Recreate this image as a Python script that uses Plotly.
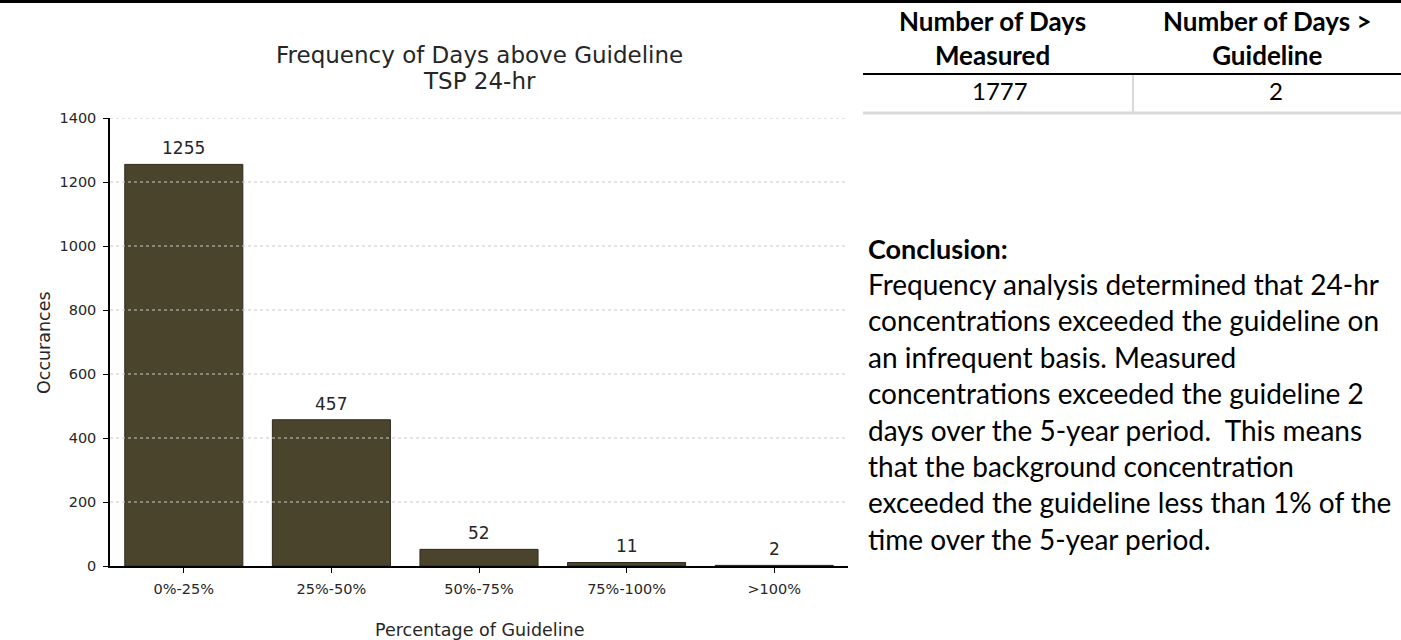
import plotly.graph_objects as go

# ---- data ----
categories = ["0%-25%", "25%-50%", "50%-75%", "75%-100%", ">100%"]
occurrences = [1255, 457, 52, 11, 2]
y_ticks = [0, 200, 400, 600, 800, 1000, 1200, 1400]

table_headers = ["Number of Days<br>Measured", "Number of Days ><br>Guideline"]
table_values = ["1777", "2"]

conclusion_title = "Conclusion:"
conclusion_lines = [
    "Frequency analysis determined that 24-hr",
    "concentrations exceeded the guideline on",
    "an infrequent basis. Measured",
    "concentrations exceeded the guideline 2",
    "days over the 5-year period.  This means",
    "that the background concentration",
    "exceeded the guideline less than 1% of the",
    "time over the 5-year period.",
]

chart_title = "Frequency of Days above Guideline"
chart_subtitle = "TSP 24-hr"
x_title = "Percentage of Guideline"
y_title = "Occurances"

# ---- layout geometry (pixels) ----
W, H = 1401, 640
L, R, T, B = 110, 848, 118, 566  # plot area box
PW, PH = R - L, B - T


def px(x):
    return (x - L) / PW


def py(y):
    return (B - y) / PH


CHART_FONT = "DejaVu Sans, sans-serif"
DOC_FONT = "Lato, Carlito, sans-serif"
TXT = "#262626"
BAR_COLOR = "#4a442d"

fig = go.Figure()
fig.add_trace(go.Bar(
    x=categories,
    y=occurrences,
    width=0.8,
    marker=dict(color=BAR_COLOR, line=dict(color="#2e2a1c", width=1)),
    hoverinfo="skip",
))

shapes = []
# dotted grid lines drawn over the bars
for t in y_ticks[1:]:
    shapes.append(dict(type="line", xref="paper", yref="y", x0=0, x1=1, y0=t, y1=t,
                       line=dict(color="#c8c8c8", width=1, dash="dot"), layer="above"))

# table / page lines
shapes.append(dict(type="line", xref="paper", yref="paper", x0=px(0), x1=px(W), y0=py(1.5), y1=py(1.5),
                   line=dict(color="black", width=3)))
shapes.append(dict(type="line", xref="paper", yref="paper", x0=px(863), x1=px(W), y0=py(74), y1=py(74),
                   line=dict(color="black", width=2)))
shapes.append(dict(type="line", xref="paper", yref="paper", x0=px(863), x1=px(W), y0=py(113), y1=py(113),
                   line=dict(color="#d9d9d9", width=3)))
shapes.append(dict(type="line", xref="paper", yref="paper", x0=px(1133), x1=px(1133), y0=py(75), y1=py(112),
                   line=dict(color="#d9d9d9", width=2)))

annotations = []
# bar value labels, anchored to the bars through the axes
for c, v in zip(categories, occurrences):
    annotations.append(dict(text=str(v), x=c, y=v, xref="x", yref="y", showarrow=False,
                            xanchor="center", yanchor="bottom", yshift=4,
                            font=dict(family=CHART_FONT, size=17, color=TXT)))

# chart title
annotations.append(dict(text=chart_title, x=px(479), y=py(55), xref="paper", yref="paper",
                        showarrow=False, xanchor="center", yanchor="middle",
                        font=dict(family=CHART_FONT, size=23, color=TXT)))
annotations.append(dict(text=chart_subtitle, x=px(479), y=py(81), xref="paper", yref="paper",
                        showarrow=False, xanchor="center", yanchor="middle",
                        font=dict(family=CHART_FONT, size=23, color=TXT)))
# axis titles
annotations.append(dict(text=x_title, x=px(480), y=py(630), xref="paper", yref="paper",
                        showarrow=False, xanchor="center", yanchor="middle",
                        font=dict(family=CHART_FONT, size=17.5, color=TXT)))
annotations.append(dict(text=y_title, x=px(44), y=py(343), xref="paper", yref="paper",
                        showarrow=False, xanchor="center", yanchor="middle", textangle=-90,
                        font=dict(family=CHART_FONT, size=17.5, color=TXT)))

# table text
header_centers = [993, 1267]
value_centers = [1000, 1276]
for hx, vx, hdr, val in zip(header_centers, value_centers, table_headers, table_values):
    annotations.append(dict(text="<b>" + hdr + "</b>", x=px(hx), y=py(37.5),
                            xref="paper", yref="paper", showarrow=False,
                            xanchor="center", yanchor="middle",
                            font=dict(family=DOC_FONT, size=26, color="black")))
    annotations.append(dict(text=val, x=px(vx), y=py(90), xref="paper", yref="paper",
                            showarrow=False, xanchor="center", yanchor="middle",
                            font=dict(family=DOC_FONT, size=24, color="black")))

# conclusion text
TEXT_X = 866
annotations.append(dict(text="<b>" + conclusion_title + "</b>", x=px(TEXT_X), y=py(248),
                        xref="paper", yref="paper", showarrow=False,
                        xanchor="left", yanchor="middle",
                        font=dict(family=DOC_FONT, size=27, color="black")))
for i, line in enumerate(conclusion_lines):
    annotations.append(dict(text=line, x=px(TEXT_X), y=py(284 + 36.4 * i),
                            xref="paper", yref="paper", showarrow=False,
                            xanchor="left", yanchor="middle",
                            font=dict(family=DOC_FONT, size=28, color="black")))

fig.update_layout(
    width=W, height=H,
    margin=dict(l=L, r=W - R, t=T, b=H - B, pad=0),
    paper_bgcolor="white", plot_bgcolor="white",
    showlegend=False,
    shapes=shapes,
    annotations=annotations,
    xaxis=dict(
        type="category", range=[-0.5, 4.5],
        showline=True, linecolor="black", linewidth=2,
        ticks="outside", ticklen=5, tickcolor="black",
        ticklabelstandoff=4,
        showgrid=False, zeroline=False,
        tickfont=dict(family=CHART_FONT, size=14.5, color=TXT),
    ),
    yaxis=dict(
        range=[0, 1400], tickvals=y_ticks,
        showline=True, linecolor="black", linewidth=1.5,
        ticks="outside", ticklen=5, tickcolor="black",
        ticklabelstandoff=4,
        showgrid=False, zeroline=False,
        tickfont=dict(family=CHART_FONT, size=14.5, color=TXT),
    ),
)

fig.write_html(
    "out.html",
    config={"displayModeBar": False},
    post_script="document.body.style.margin='0';document.body.style.overflow='hidden';",
)
